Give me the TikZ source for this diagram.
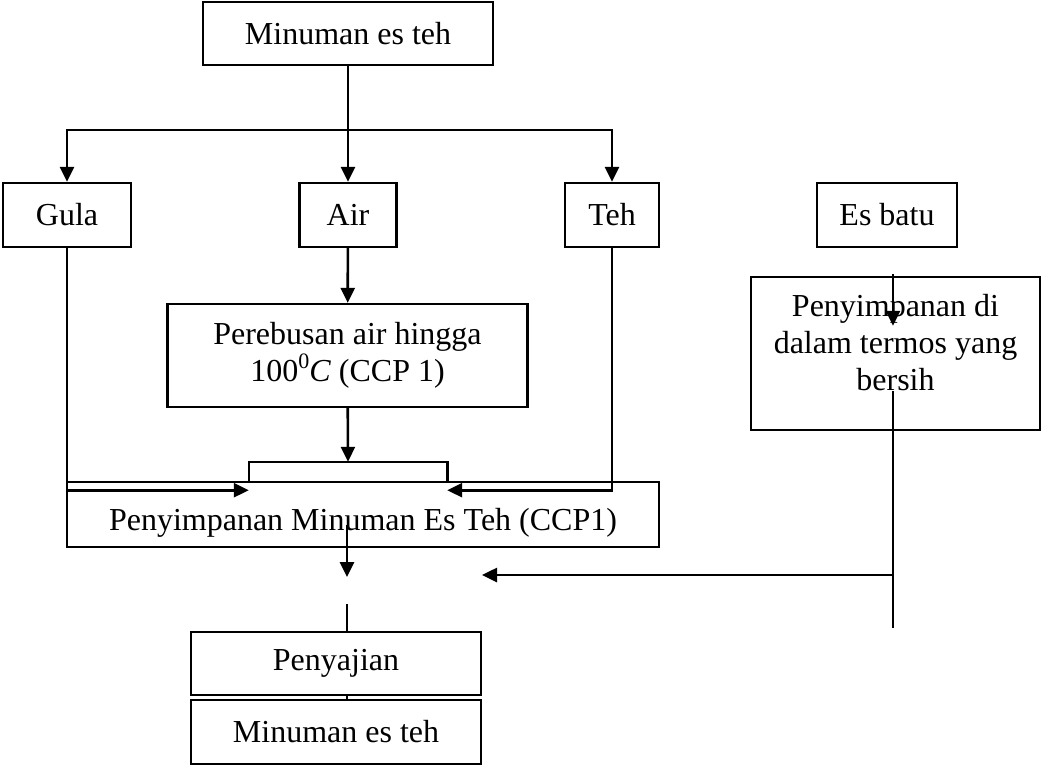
\documentclass[tikz,border=0pt]{standalone}
\usepackage{fontspec}
\setmainfont{Liberation Serif}
\usetikzlibrary{arrows.meta}

\begin{document}
\begin{tikzpicture}[x=1pt, y=-1pt,
  box/.style={draw, line width=2.4pt, inner sep=0pt, font=\fontsize{32}{37}\selectfont},
  arr/.style={line width=2.6pt, -{Triangle[length=15pt,width=14pt]}},
  ln/.style={line width=2.6pt}]
\useasboundingbox (0,0) rectangle (1041,766);
\node[box, minimum width=290pt, minimum height=63pt] (top) at (348,33.5) {Minuman es teh};
\node[box, minimum width=128pt, minimum height=64pt] (gula) at (67,215) {Gula};
\node[box, minimum width=97pt, minimum height=64pt] (air) at (348,215) {Air};
\node[box, minimum width=94pt, minimum height=64pt] (teh) at (612,215) {Teh};
\node[box, minimum width=140pt, minimum height=64pt] (esbatu) at (887,215) {Es batu};
\node[box, align=center, minimum width=360pt, minimum height=103pt] (rebus) at (347.5,355.5) {Perebusan air hingga\\100\raisebox{0.42em}{\fontsize{22}{22}\selectfont 0}\textit{C} (CCP 1)};
\node[minimum width=198pt, minimum height=20pt, inner sep=0pt] (brk) at (348,472) {};
\node[box, minimum width=592pt, minimum height=65pt, text height=31pt, text depth=0pt] (simpan) at (363,514.5) {Penyimpanan Minuman Es Teh (CCP1)};
\node[box, minimum width=289pt, minimum height=153pt] (termos) at (895.5,353.5) {};
\node[align=center, anchor=north, inner sep=0pt, font=\fontsize{32}{37}\selectfont] (termostxt) at ([yshift=-18pt]termos.north) {Penyimpanan di\\dalam termos yang\\bersih};
\node[box, minimum width=290pt, minimum height=63pt] (sajian) at (336,663.5) {Penyajian};
\node[box, minimum width=290pt, minimum height=64pt] (final) at (336,732) {Minuman es teh};

\coordinate (split) at (348,130);
\coordinate (mix) at (347,577);
\coordinate (mixin) at (482,575);
\coordinate (tjoin) at (893,575);
\coordinate (tend) at (893,628);
\coordinate (sajitop) at (347,604);

\draw[arr] (top) -- (air);
\draw[arr] (split) -| (gula.north);
\draw[arr] (split) -| (teh.north);
\draw[arr] (air) -- (rebus);
\draw[arr] (rebus) -- (brk.north);
\draw[ln] (brk.south west) |- (brk.north) -| (brk.south east);
\draw[arr] (gula.south) |- ([yshift=-8pt]brk.south west);
\draw[arr] (teh.south) |- ([yshift=-8pt]brk.south east);
\draw[arr] ([xshift=-16pt,yshift=-10.5pt]simpan.center) -- (mix);
\draw[arr] ([xshift=6pt,yshift=-26pt]esbatu.south) -- ([xshift=-2.5pt,yshift=-50pt]termos.north);
\draw[ln] ([xshift=-2.5pt,yshift=-115pt]termos.north) -- (tend);
\draw[arr] (tjoin) -- (mixin);
\draw[ln] (sajitop) -- (sajitop |- sajian.north);
\draw[ln] (sajitop |- sajian.south) -- (sajitop |- final.north);
\end{tikzpicture}
\end{document}
